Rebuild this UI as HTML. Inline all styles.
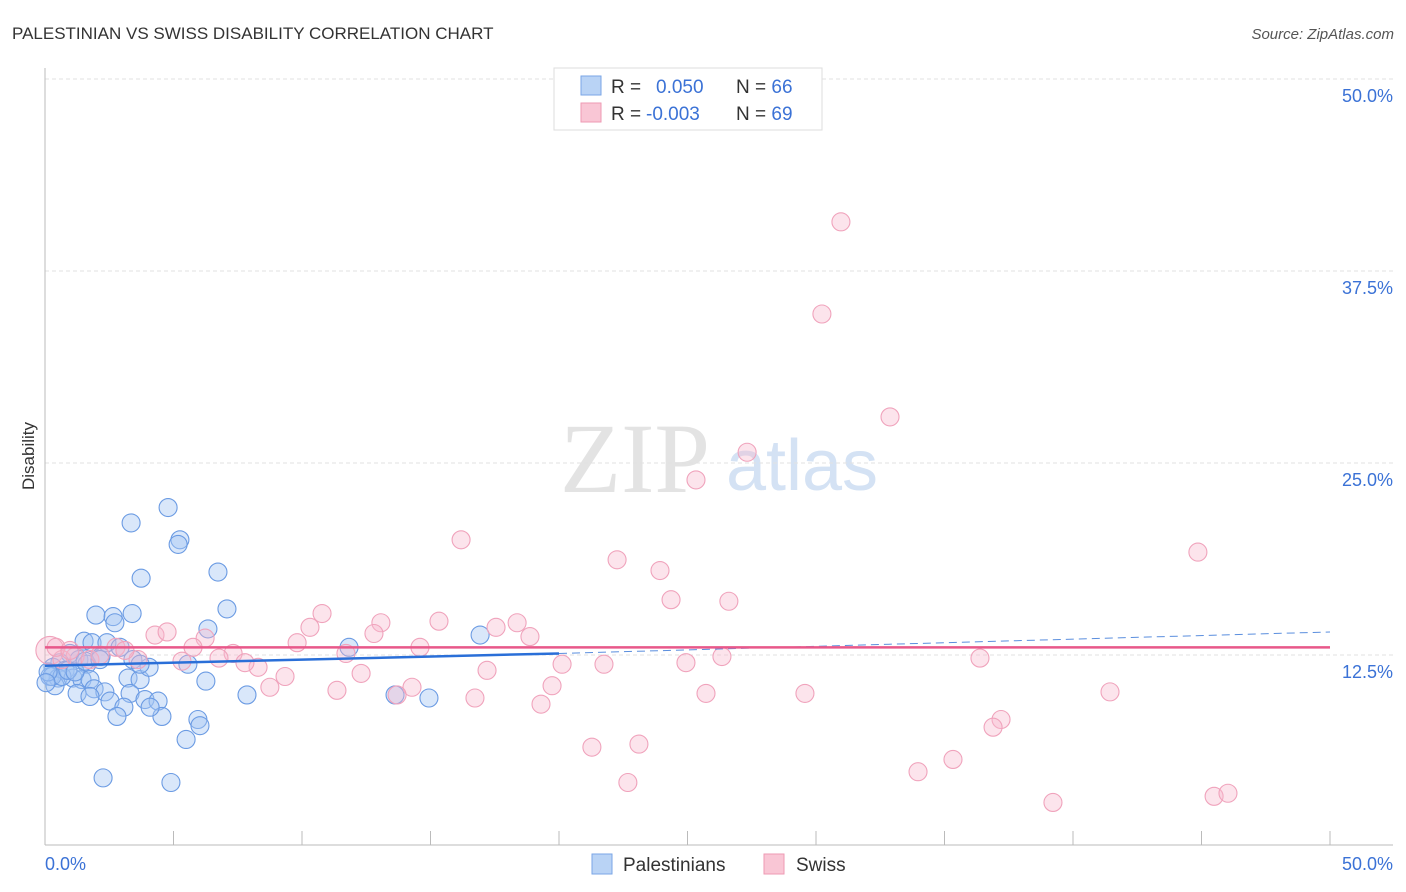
<!DOCTYPE html>
<html><head><meta charset="utf-8"><style>
body{margin:0;background:#fff;font-family:"Liberation Sans",sans-serif;}
svg{display:block}
</style></head><body>
<svg id="c" width="1406" height="892">
<text x="12" y="39" font-size="17" fill="#333">PALESTINIAN VS SWISS DISABILITY CORRELATION CHART</text>
<text x="1394" y="39" font-size="15" fill="#555" font-style="italic" text-anchor="end">Source: ZipAtlas.com</text>
<text x="34" y="456" font-size="17" fill="#333" text-anchor="middle" transform="rotate(-90 34 456)">Disability</text>
<g><text x="635" y="492" font-size="100" font-family="Liberation Serif" fill="#e3e3e3" text-anchor="middle">ZIP</text><text x="802" y="490" font-size="72" fill="#d4e2f4" text-anchor="middle">atlas</text></g>
<g id="grid"></g><g id="marks"></g>
<g>
<rect x="554" y="68" width="268" height="62" fill="#fff" stroke="#ddd"/>
<rect x="581" y="76" width="20" height="19" fill="#b9d3f5" stroke="#7aa6e6"/>
<rect x="581" y="103" width="20" height="19" fill="#f9c6d5" stroke="#ee9ab3"/>
<text x="611" y="93" font-size="19" fill="#333">R = <tspan fill="#3b72d6" x="656">0.050</tspan><tspan x="736" fill="#333">N = </tspan><tspan fill="#3b72d6">66</tspan></text>
<text x="611" y="120" font-size="19" fill="#333">R = <tspan fill="#3b72d6" x="646">-0.003</tspan><tspan x="736" fill="#333">N = </tspan><tspan fill="#3b72d6">69</tspan></text>
</g>
<g>
<rect x="592" y="854" width="20" height="20" fill="#b9d3f5" stroke="#7aa6e6"/>
<text x="623" y="871" font-size="19" fill="#333">Palestinians</text>
<rect x="764" y="854" width="20" height="20" fill="#f9c6d5" stroke="#ee9ab3"/>
<text x="796" y="871" font-size="19" fill="#333">Swiss</text>
</g>
</svg>
<script>
const yTicks=[12.5,25,37.5,50];
const yTickLabels=["12.5%","25.0%","37.5%","50.0%"];
const xTickLabels=["0.0%","50.0%"];
const blueX=[4.79,3.35,5.25,5.18,3.74,6.73,7.08,1.98,2.65,3.39,2.72,6.34,1.52,1.83,2.41,2.92,3.42,2.18,0.97,1.32,1.63,0.58,0.31,0.78,0.19,0.51,1.09,1.44,1.75,0.39,1.91,2.33,1.25,1.75,3.23,3.70,4.05,5.56,6.26,3.31,2.53,3.89,4.40,3.07,2.80,4.55,5.95,6.03,5.49,7.86,11.83,16.93,13.62,14.94,2.26,4.90,0.27,0.66,0.89,0.12,1.17,1.56,3.70,4.09,0.04,2.14];
const blueY=[22.1,21.1,20.0,19.7,17.5,17.9,15.5,15.1,15.0,15.2,14.6,14.2,13.4,13.3,13.3,13.0,12.2,12.4,12.6,12.2,11.9,12.0,11.7,11.5,11.1,11.0,11.0,10.9,10.9,10.5,10.3,10.1,10.0,9.8,11.0,10.9,11.7,11.9,10.8,10.0,9.5,9.6,9.5,9.1,8.5,8.5,8.3,7.9,7.0,9.9,13.0,13.8,9.9,9.7,4.5,4.2,11.1,11.1,11.5,11.4,11.4,12.1,11.9,9.1,10.7,12.2];
const pinkX=[30.97,30.23,32.88,27.32,25.33,16.19,22.26,23.93,44.86,24.36,26.61,10.78,15.33,18.37,13.07,17.55,10.31,18.87,12.80,4.28,4.75,9.81,6.23,14.59,5.76,2.76,11.71,7.32,6.77,5.33,3.62,8.29,7.78,26.34,36.38,20.12,21.75,24.94,17.20,12.30,9.34,8.75,11.36,14.28,13.70,16.73,19.73,25.72,29.57,41.44,19.30,37.20,36.89,23.11,21.28,35.33,33.97,22.68,39.22,45.49,46.03,0.19,0.66,1.17,1.75,2.14,3.11,0.43,0.97];
const pinkY=[40.7,34.7,28.0,25.7,23.9,20.0,18.7,18.0,19.2,16.1,16.0,15.2,14.7,14.6,14.6,14.3,14.3,13.7,13.9,13.8,14.0,13.3,13.6,13.0,13.0,13.0,12.6,12.6,12.3,12.1,12.2,11.7,12.0,12.4,12.3,11.9,11.9,12.0,11.5,11.3,11.1,10.4,10.2,10.4,9.9,9.7,10.5,10.0,10.0,10.1,9.3,8.3,7.8,6.7,6.5,5.7,4.9,4.2,2.9,3.3,3.5,12.8,12.2,12.4,12.2,12.5,12.8,13.0,12.8];
const blueTrend=[11.8,12.6,14.0]; // at x=0, 20, 50
const pinkTrend=[13.0,13.0];
const NS="http://www.w3.org/2000/svg";
const X=v=>45+v*25.7, Y=v=>847-v*15.36;
function mk(t,a,p){const e=document.createElementNS(NS,t);for(const k in a)e.setAttribute(k,a[k]);p.appendChild(e);return e;}
const g=document.getElementById('grid'), m=document.getElementById('marks');
yTicks.forEach((t,i)=>{
 const l=mk('line',{x1:45,x2:1393,y1:Y(t),y2:Y(t),stroke:'#e2e2e2','stroke-dasharray':'4,3'},g);
 
 
 const tx=mk('text',{x:1393,y:Y(t)+23,'font-size':18,fill:'#3b72d6','text-anchor':'end'},g);tx.textContent=yTickLabels[i];
 
 
});
const ax=mk('line',{x1:45,x2:45,y1:68,y2:845,stroke:'#bbb'},g);


const bx=mk('line',{x1:45,x2:1393,y1:845,y2:845,stroke:'#bbb'},g);


for(let i=0;i<=10;i++){const t=mk('line',{x1:X(i*5),x2:X(i*5),y1:831,y2:845,stroke:'#bbb'},g);
 
 }
[[0,'start',45],[50,'end',1393]].forEach((d,i)=>{const t=mk('text',{x:d[2],y:870,'font-size':18,fill:'#3b72d6','text-anchor':d[1]},g);t.textContent=xTickLabels[i];
 
 });
blueX.forEach((v,i)=>{const c=mk('circle',{cx:X(v),cy:Y(blueY[i]),r:9,fill:'rgba(165,198,242,0.42)',stroke:'#6b9be3','stroke-width':1.1},m);
 
 });
pinkX.forEach((v,i)=>{const c=mk('circle',{cx:X(v),cy:Y(pinkY[i]),r:i==61?14:9,fill:'rgba(248,185,205,0.38)',stroke:'#f0a3bc','stroke-width':1.1},m);
 
 });
let l1=mk('line',{x1:X(0),y1:Y(blueTrend[0]),x2:X(20),y2:Y(blueTrend[1]),stroke:'#2a6fd8','stroke-width':2.5},m);


let l2=mk('line',{x1:X(20),y1:Y(blueTrend[1]),x2:X(50),y2:Y(blueTrend[2]),stroke:'#5a8ede','stroke-width':1,'stroke-dasharray':'8,5'},m);


let l3=mk('line',{x1:X(0),y1:Y(pinkTrend[0]),x2:X(50),y2:Y(pinkTrend[1]),stroke:'#e8588a','stroke-width':2.5},m);


</script>
</body></html>
